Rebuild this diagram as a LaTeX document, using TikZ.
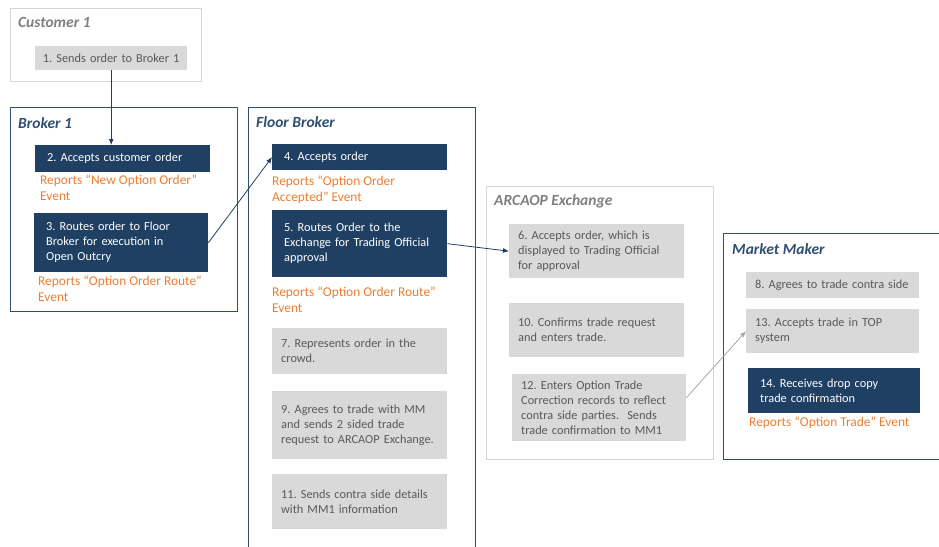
\documentclass[tikz,border=0pt]{standalone}
\usepackage{fontspec}
\setmainfont{Carlito}
\usetikzlibrary{positioning, arrows.meta}
\definecolor{navyblue}{HTML}{1F3F63}
\definecolor{laneblue}{HTML}{2F4E70}
\definecolor{stepgray}{HTML}{D9D9D9}
\definecolor{lanegray}{HTML}{D6D6D6}
\definecolor{textgray}{HTML}{595959}
\definecolor{titlegray}{HTML}{7F7F7F}
\definecolor{reportorange}{HTML}{ED7D31}
\frenchspacing

\begin{document}
\begin{tikzpicture}[x=1pt, y=-1pt, font=\fontsize{12.3}{15}\selectfont]
% Define styles
\tikzset{
  lane/.style={draw=laneblue, line width=1.3pt, anchor=north west, inner sep=0pt},
  lane gray/.style={draw=lanegray, line width=1.1pt, anchor=north west, inner sep=0pt},
  lane title/.style={anchor=west, inner sep=0pt, text=laneblue,
    font=\fontsize{15.5}{17}\selectfont\bfseries\itshape},
  dark step/.style={fill=navyblue, text=white, anchor=north west, align=left,
    inner xsep=12pt, inner ysep=0pt},
  gray step/.style={fill=stepgray, text=textgray, anchor=north west, align=left,
    inner xsep=9pt, inner ysep=0pt},
  report/.style={text=reportorange, anchor=north west, align=left, inner sep=0pt,
    font=\fontsize{13.4}{16}\selectfont},
  flow/.style={-{Latex[length=6pt, width=5pt]}, navyblue, line width=0.8pt},
  flow gray/.style={-{Latex[length=6pt, width=5pt]}, gray!70, line width=0.8pt}
}

% Canvas
\useasboundingbox (0,0) rectangle (939,546);

% Lanes
\node[lane gray, minimum width=191pt, minimum height=73pt] (customer) at (10,8) {};
\node[lane title, text=titlegray] (customer title) at (18,22) {Customer 1};
\node[lane, minimum width=227pt, minimum height=204pt] (broker) at (10,107) {};
\node[lane title] (broker title) at (18,123) {Broker 1};
\node[lane, minimum width=227pt, minimum height=460pt] (floor) at (248,107) {};
\node[lane title] (floor title) at (256,122) {Floor Broker};
\node[lane gray, minimum width=227pt, minimum height=273pt] (arcaop) at (486,186) {};
\node[lane title, text=titlegray] (arcaop title) at (494,201) {ARCAOP Exchange};
\node[lane, minimum width=230pt, minimum height=226pt] (market) at (723,233) {};
\node[lane title] (market title) at (732,249) {Market Maker};

% Customer 1
\node[gray step, align=center, inner xsep=4pt, text width=144pt, minimum height=24pt] (step1) at (35,46)
  {1. Sends order to Broker 1};

% Broker 1
\node[dark step, text width=151pt, minimum height=27pt] (step2) at (35,145)
  {2. Accepts customer order};
\node[report] (report2) at (40,175) {Reports “New Option Order”\\Event};
\node[dark step, text width=150pt, minimum height=59pt] (step3) at (34,213)
  {3. Routes order to Floor\\Broker for execution in\\Open Outcry};
\node[report] (report3) at (38,276) {Reports “Option Order Route”\\Event};

% Floor Broker
\node[dark step, text width=151pt, minimum height=26pt] (step4) at (272,144)
  {4. Accepts order};
\node[report] (report4) at (272,176) {Reports “Option Order\\Accepted” Event};
\node[dark step, text width=151pt, minimum height=67pt] (step5) at (272,210)
  {5. Routes Order to the\\Exchange for Trading Official\\approval};
\node[report] (report5) at (272,287) {Reports “Option Order Route”\\Event};
\node[gray step, text width=157pt, minimum height=46pt] (step7) at (272,328)
  {7. Represents order in the\\crowd.};
\node[gray step, text width=157pt, minimum height=68pt] (step9) at (272,391)
  {9. Agrees to trade with MM\\and sends 2 sided trade\\request to ARCAOP Exchange.};
\node[gray step, text width=157pt, minimum height=55pt] (step11) at (272,474)
  {11. Sends contra side details\\with MM1 information};

% ARCAOP Exchange
\node[gray step, text width=157pt, minimum height=54pt] (step6) at (509,224)
  {6. Accepts order, which is\\displayed to Trading Official\\for approval};
\node[gray step, text width=157pt, minimum height=54pt] (step10) at (509,303)
  {10. Confirms trade request\\and enters trade.};
\node[gray step, text width=156pt, minimum height=67pt] (step12) at (512,374)
  {12. Enters Option Trade\\Correction records to reflect\\contra side parties.\ \ Sends\\trade confirmation to MM1};

% Market Maker
\node[gray step, text width=155pt, minimum height=26pt] (step8) at (746,272)
  {8. Agrees to trade contra side};
\node[gray step, text width=155pt, minimum height=44pt] (step13) at (746,309)
  {13. Accepts trade in TOP\\system};
\node[dark step, text width=148pt, minimum height=45pt] (step14) at (748,368)
  {14. Receives drop copy\\trade confirmation};
\node[report] (report14) at (749,417) {Reports “Option Trade” Event};

% Connectors
\draw[flow] (step1.south) -- (step1.south |- step2.north);
\draw[flow] (step3.east) -- (step4.west);
\draw[flow] (step5.east) -- (step6.west);
\draw[flow gray] ([yshift=10pt]step12.east) -- (step13.west);
\end{tikzpicture}
\end{document}
